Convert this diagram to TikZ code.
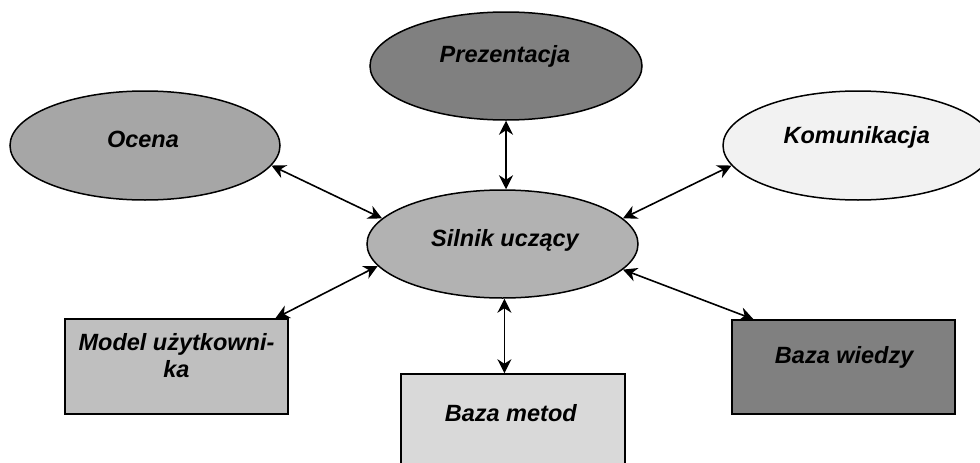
\documentclass[tikz,border=0pt]{standalone}
\usepackage{fontspec}
\setmainfont{Liberation Sans}
\usetikzlibrary{shapes.geometric,arrows.meta}
\definecolor{cOcena}{gray}{0.65}
\definecolor{cPrez}{gray}{0.50}
\definecolor{cKom}{gray}{0.95}
\definecolor{cSil}{gray}{0.70}
\definecolor{cModel}{gray}{0.75}
\definecolor{cMetod}{gray}{0.85}
\definecolor{cWiedzy}{gray}{0.50}
\begin{document}
\begin{tikzpicture}[x=1pt,y=-1pt,
  shp/.style={draw=black,line width=1.5pt,inner sep=0pt},
  elli/.style={shp,ellipse},
  boxx/.style={shp,rectangle},
  txt/.style={font=\fontsize{23.5}{27.7}\selectfont\bfseries\itshape,anchor=base,inner sep=0pt,align=center},
  tip/.style={Stealth[length=14pt,width=14pt,inset=4.5pt]},
  conn/.style={{Stealth[length=14pt,width=14pt,inset=4.5pt]}-{Stealth[length=14pt,width=14pt,inset=4.5pt]},line width=1.6pt}]
\useasboundingbox (0,0) rectangle (980,463);
\fill[white] (0,0) rectangle (980,463);
% shapes
\node[elli,fill=cOcena,minimum width=270pt,minimum height=109pt] (ocena) at (145,145.5) {};
\node[elli,fill=cPrez,minimum width=272pt,minimum height=108pt] (prez) at (506,66) {};
\node[elli,fill=cKom,minimum width=270pt,minimum height=109pt] (kom) at (858,145.5) {};
\node[elli,fill=cSil,minimum width=271pt,minimum height=108pt] (silnik) at (502.5,244) {};
\node[boxx,fill=cModel,minimum width=223pt,minimum height=95pt] (model) at (176.5,366.5) {};
\node[boxx,fill=cMetod,minimum width=224pt,minimum height=120pt] (metod) at (512.8,434) {};
\node[boxx,fill=cWiedzy,minimum width=223pt,minimum height=94pt] (wiedzy) at (843.3,367) {};
% texts
\node[txt] (tocena) at (143,147.3) {Ocena};
\node[txt] (tprez) at (505,62.7) {Prezentacja};
\node[txt] (tkom) at (856.7,143.3) {Komunikacja};
\node[txt] (tsilnik) at (505,246.7) {Silnik uczący};
\node[txt] (tmodel) at (176.5,377.7) {Model użytkowni-\\ka};
\node[txt] (tmetod) at (510.8,421.7) {Baza metod};
\node[txt] (twiedzy) at (844.2,363.3) {Baza wiedzy};
% connectors
\draw[conn] (ocena.-9) -- (silnik.168);
\draw[conn] (prez.south) -- (prez.south |- silnik.north);
\draw[conn] (kom.189) -- (silnik.12);
\draw[conn] (model.26.5) -- (silnik.190);
\draw[conn] (silnik.-88) -- (silnik.-88 |- metod.north);
\draw[conn] (silnik.-12) -- (wiedzy.152);
\end{tikzpicture}
\end{document}
